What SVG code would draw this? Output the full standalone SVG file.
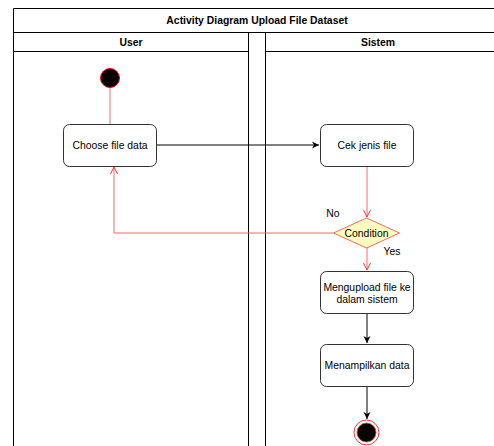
<svg xmlns="http://www.w3.org/2000/svg" width="494" height="446" viewBox="0 0 494 446">
<style>
.t{font-family:"Liberation Sans",Arial,sans-serif;font-size:10.4px;fill:#000;text-anchor:middle}
.b{font-weight:bold;font-size:10.4px}
.frame{fill:none;stroke:#000;stroke-width:1}
.box{fill:#fff;stroke:#333;stroke-width:1}
.red{fill:none;stroke:#ff6666;stroke-width:1}
.blk{fill:none;stroke:#000;stroke-width:1}
</style>
<defs>
<marker id="ab" markerWidth="8" markerHeight="8" refX="7" refY="4" orient="auto" markerUnits="userSpaceOnUse">
<path d="M0,0.5 L7,4 L0,7.5 L2,4 Z" fill="#000"/>
</marker>
<marker id="ar" markerWidth="8" markerHeight="8" refX="7" refY="4" orient="auto" markerUnits="userSpaceOnUse">
<path d="M0,0.5 L7,4 L0,7.5" fill="none" stroke="#ff3333" stroke-width="1"/>
</marker>
</defs>
<rect width="494" height="446" fill="#fff"/>
<g id="pool">
<path class="frame" d="M13.5,446 V8.5 H500"/>
<path class="frame" d="M13.5,32.5 H500"/>
<text class="t b" x="257" y="23.5">Activity Diagram Upload File Dataset</text>
</g>
<g id="lane-user">
<path class="frame" d="M13.5,51.5 H248.5 M248.5,32.5 V446"/>
<text class="t b" x="131" y="45.5">User</text>
</g>
<g id="lane-sistem">
<path class="frame" d="M265.5,32.5 V446 M265.5,51.5 H500"/>
<text class="t b" x="378" y="45.5">Sistem</text>
</g>
<g id="connectors">
<path class="red" d="M110,87 V124"/>
<path class="blk" d="M157,145 H319" marker-end="url(#ab)"/>
<path class="red" d="M367,166 V217" marker-end="url(#ar)"/>
<path class="red" d="M333,233 H114 V167" marker-end="url(#ar)"/>
<path class="red" d="M367,247 V270" marker-end="url(#ar)"/>
<path class="blk" d="M367,313 V343" marker-end="url(#ab)"/>
<path class="blk" d="M367,387 V419" marker-end="url(#ab)"/>
<text class="t" x="333" y="217">No</text>
<text class="t" x="392" y="255">Yes</text>
</g>
<g id="start">
<circle cx="110" cy="78" r="9.5" fill="#000" stroke="#ff0000" stroke-width="1"/>
</g>
<g id="choose-file-data">
<rect class="box" x="63.5" y="124.5" width="93" height="42" rx="6"/>
<text class="t" x="110" y="149">Choose file data</text>
</g>
<g id="cek-jenis-file">
<rect class="box" x="320.5" y="124.5" width="93" height="42" rx="6"/>
<text class="t" x="367" y="149">Cek jenis file</text>
</g>
<g id="condition">
<path d="M366.5,218 L399.5,233 L366.5,248 L333.5,233 Z" fill="#ffffc0" stroke="#ff6666" stroke-width="1"/>
<text class="t" x="366.5" y="237">Condition</text>
</g>
<g id="mengupload">
<rect class="box" x="320.5" y="271.5" width="93" height="42" rx="6"/>
<text class="t" x="367" y="290.5">Mengupload file ke</text>
<text class="t" x="367" y="302.5">dalam sistem</text>
</g>
<g id="menampilkan">
<rect class="box" x="320.5" y="344.5" width="93" height="42" rx="6"/>
<text class="t" x="367" y="369">Menampilkan data</text>
</g>
<g id="end">
<circle cx="366.5" cy="432.5" r="12.5" fill="#fff" stroke="#ff3333" stroke-width="1"/>
<circle cx="366.5" cy="432.5" r="9.5" fill="#000" stroke="#ff3333" stroke-width="0.8"/>
</g>
</svg>
